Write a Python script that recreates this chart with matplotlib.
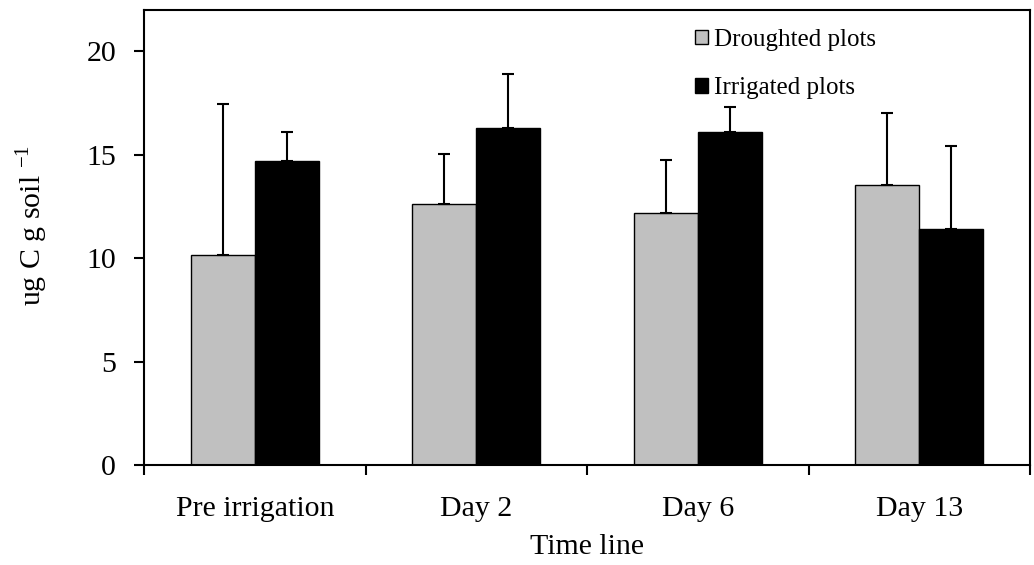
import numpy
from matplotlib import pyplot as plt
from matplotlib.patches import Patch
from matplotlib.ticker import FixedLocator

plt.rcParams['font.family'] = ['Liberation Serif', 'DejaVu Serif']
plt.rcParams['mathtext.fontset'] = 'custom'
plt.rcParams['mathtext.rm'] = 'Liberation Serif'

TIME_LINE = ['Pre irrigation', 'Day 2', 'Day 6', 'Day 13']
DROUGHTED = [10.15, 12.6, 12.2, 13.55]
DROUGHTED_ERR = [7.3, 2.45, 2.55, 3.45]
IRRIGATED = [14.7, 16.3, 16.1, 11.4]
IRRIGATED_ERR = [1.38, 2.6, 1.2, 4.0]

GREY = '#c0c0c0'
fontsize = 21.5

fig = plt.figure(figsize=(10.34, 5.65), dpi=100)
ax = fig.add_axes([144 / 1034, 100 / 565, 886 / 1034, 455 / 565])

x = numpy.arange(len(TIME_LINE))
w = 0.29

ax.bar(x - w / 2, DROUGHTED, w, color=GREY, edgecolor='black', lw=1.0, zorder=2)
ax.bar(x + w / 2, IRRIGATED, w, color='black', edgecolor='black', lw=1.0, zorder=2)
ax.errorbar(x - w / 2, DROUGHTED, yerr=[numpy.zeros(len(x)), DROUGHTED_ERR],
            fmt='none', ecolor='black', elinewidth=1.5, capsize=4, capthick=1.5, zorder=3)
ax.errorbar(x + w / 2, IRRIGATED, yerr=[numpy.zeros(len(x)), IRRIGATED_ERR],
            fmt='none', ecolor='black', elinewidth=1.5, capsize=4, capthick=1.5, zorder=3)

ax.set_xlim(-0.5, 3.5)
ax.set_ylim(0, 22)
ax.set_yticks([0, 5, 10, 15, 20])
ax.set_xticks(x)
ax.set_xticklabels(TIME_LINE)
ax.xaxis.set_minor_locator(FixedLocator(numpy.arange(-0.5, 4.0, 1.0)))
ax.tick_params(axis='x', which='major', length=0, pad=22, labelsize=fontsize)
ax.tick_params(axis='x', which='minor', length=7, width=1.5, direction='out')
ax.tick_params(axis='y', length=7, width=1.5, direction='out', pad=13, labelsize=fontsize)
for s in ax.spines.values():
    s.set_linewidth(1.5)

ax.set_xlabel('Time line', fontsize=fontsize, labelpad=9)
ax.set_ylabel(r'ug C g soil $^{\mathrm{-1}}$', fontsize=fontsize, labelpad=26, y=0.526)

handles = [Patch(facecolor=GREY, edgecolor='black', lw=1.0),
           Patch(facecolor='black', edgecolor='black', lw=1.0)]
fig.legend(handles, ['Droughted plots', 'Irrigated plots'],
           loc='upper left', bbox_to_anchor=(695 / 1034, 1 - 29 / 565),
           frameon=False, fontsize=18, borderpad=0, borderaxespad=0,
           handlelength=0.52, handleheight=0.52, handletextpad=0.25,
           labelspacing=1.05)

fig.savefig('out.png', dpi=100)
plt.close()
